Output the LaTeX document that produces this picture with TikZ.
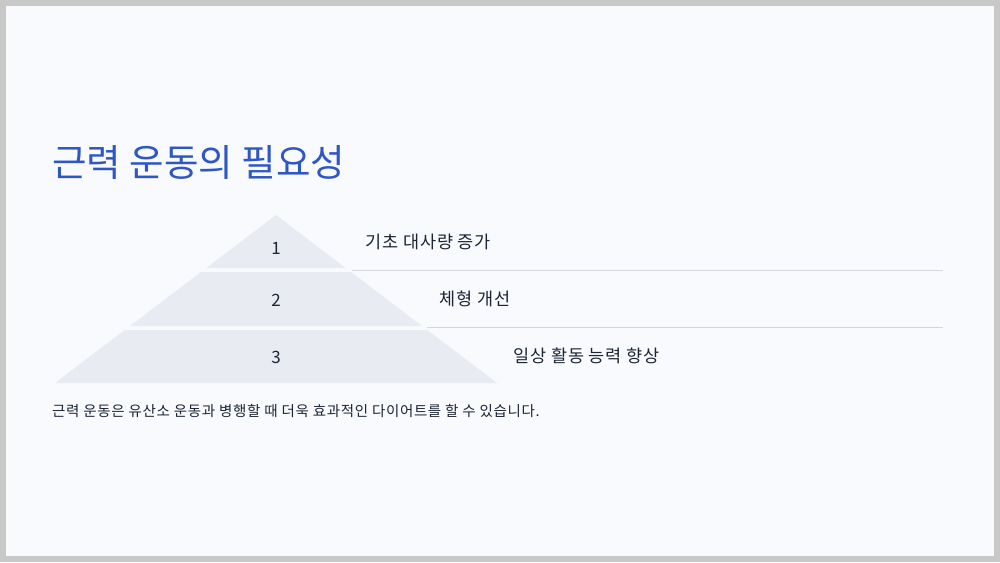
\documentclass[tikz,border=0pt]{standalone}
\usepackage{fontspec}
\setmainfont{Noto Sans CJK KR}
\usepackage{tikz}
\usetikzlibrary{positioning,calc}

\definecolor{pagebg}{HTML}{F8FAFD}
\definecolor{frame}{HTML}{C8C8C8}
\definecolor{titleblue}{HTML}{2F57C2}
\definecolor{tierfill}{HTML}{E8EBF2}
\definecolor{ink}{HTML}{1C2536}
\definecolor{rule}{HTML}{D4D7DD}

\tikzset{
  tier/.style={fill=tierfill,draw=none},
  tiernum/.style={text=ink,font=\fontsize{17}{20}\selectfont,inner sep=0pt},
  tierlabel/.style={text=ink,font=\addfontfeatures{LetterSpace=5}\fontsize{17.5}{20}\selectfont,anchor=west,inner sep=0pt},
  sepline/.style={draw=rule,line width=0.9pt}
}

\begin{document}
\begin{tikzpicture}[x=1pt,y=-1pt]
\pgfmathsetmacro{\apexx}{276}
\pgfmathsetmacro{\apexy}{215}
\pgfmathsetmacro{\basey}{383}
\pgfmathsetmacro{\slope}{221/168}
% page
\fill[frame] (0,0) rectangle (1000,562);
\fill[pagebg] (6,6) rectangle (994,556);
\useasboundingbox (0,0) rectangle (1000,562);

\node[anchor=west,text=titleblue,font=\fontsize{37.5}{44}\selectfont,inner sep=0pt] (title) at (52,162) {근력 운동의 필요성};

% pyramid tiers
\foreach \ytop/\ybot in {215/268, 272/326, 330/383} {
  \pgfmathsetmacro{\wt}{(\ytop-\apexy)*\slope}
  \pgfmathsetmacro{\wb}{(\ybot-\apexy)*\slope}
  \fill[tier] (\apexx-\wt,\ytop) -- (\apexx+\wt,\ytop) -- (\apexx+\wb,\ybot) -- (\apexx-\wb,\ybot) -- cycle;
}

\node[tiernum] (n1) at (276,248) {1};
\node[tiernum] (n2) at (276,300) {2};
\node[tiernum] (n3) at (276,357) {3};

\node[tierlabel] (l1) at (365,242) {기초 대사량 증가};
\node[tierlabel] (l2) at (439,299) {체형 개선};
\node[tierlabel] (l3) at (513,356) {일상 활동 능력 향상};

% separators
\coordinate (s1a) at (352,270);
\coordinate (s1b) at (943,270);
\coordinate (s2a) at (427,327);
\coordinate (s2b) at (943,327);
\draw[sepline] (s1a) -- (s1b);
\draw[sepline] (s2a) -- (s2b);

\node[anchor=west,text=ink,font=\addfontfeatures{LetterSpace=4.5}\fontsize{14.5}{17}\selectfont,inner sep=0pt] (note) at (52,411) {근력 운동은 유산소 운동과 병행할 때 더욱 효과적인 다이어트를 할 수 있습니다.};
\end{tikzpicture}
\end{document}
